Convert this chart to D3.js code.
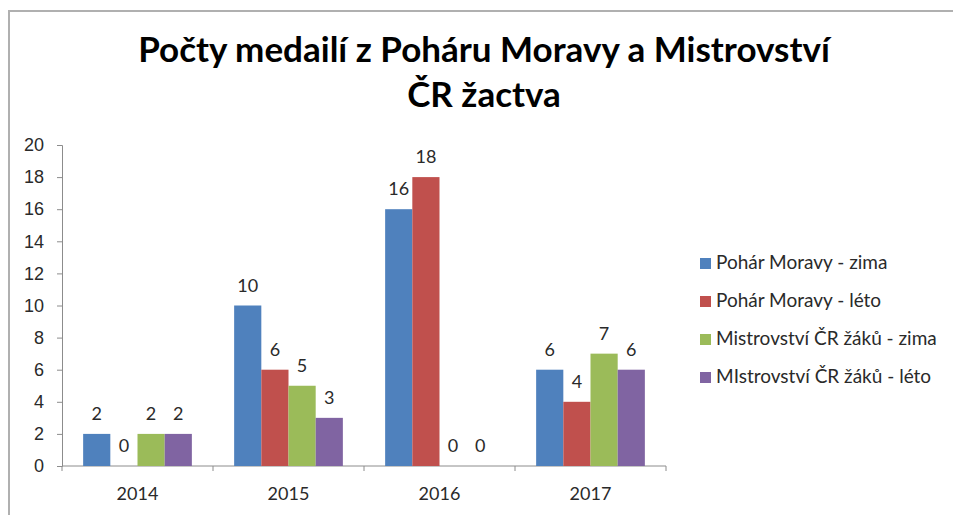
<!DOCTYPE html>
<html>
<head>
<meta charset="utf-8">
<script src="https://cdn.jsdelivr.net/npm/d3@7"></script>
<style>
  body { margin: 0; background: #fff; }
  svg { font-family: Lato, "Open Sans", sans-serif; }
</style>
</head>
<body>
<svg width="953" height="515"></svg>
<script>
var years = ['2014', '2015', '2016', '2017'];
var seriesNames = ['Pohár Moravy - zima', 'Pohár Moravy - léto', 'Mistrovství ČR žáků - zima', 'MIstrovství ČR žáků - léto'];
var pmZima = [2, 10, 16, 6];
var pmLeto = [0, 6, 18, 4];
var mcrZima = [2, 5, 0, 7];
var mcrLeto = [2, 3, 0, 6];
var yTicks = [0, 2, 4, 6, 8, 10, 12, 14, 16, 18, 20];
var colors = ['#4F81BD', '#C0504D', '#9BBB59', '#8064A2'];

var series = [pmZima, pmLeto, mcrZima, mcrLeto];

var svg = d3.select('svg');

// chart frame
svg.append('path')
  .attr('d', 'M9,515 V11 H953')
  .attr('fill', 'none')
  .attr('stroke', '#b0b0b0')
  .attr('stroke-width', 2);

// title
var title = svg.append('text')
  .attr('x', 484)
  .attr('text-anchor', 'middle')
  .attr('font-weight', 'bold')
  .attr('font-size', 35)
  .attr('fill', '#000');
title.append('tspan').attr('x', 484).attr('y', 62).text('Počty medailí z Poháru Moravy a Mistrovství');
title.append('tspan').attr('x', 484).attr('y', 107).text('ČR žactva');

var margin = { left: 62, top: 145 };
var width = 604;
var height = 321;

var g = svg.append('g')
  .attr('transform', 'translate(' + margin.left + ',' + margin.top + ')');

var x0 = d3.scaleBand()
  .domain(years)
  .range([0, width])
  .paddingInner(0.28)
  .paddingOuter(0.14);

var x1 = d3.scaleBand()
  .domain(d3.range(series.length))
  .range([0, x0.bandwidth()]);

var y = d3.scaleLinear()
  .domain([0, 20])
  .range([height, 0]);

// y axis
var yAxis = g.append('g')
  .call(d3.axisLeft(y).tickValues(yTicks).tickSize(5).tickPadding(13));
yAxis.select('.domain').attr('stroke', '#8c8c8c');
yAxis.selectAll('.tick line').attr('stroke', '#8c8c8c');
yAxis.selectAll('.tick text')
  .attr('font-size', 18)
  .attr('fill', '#2a2a2a');

// x axis with ticks at category boundaries
var xAxisG = g.append('g')
  .attr('transform', 'translate(0,' + height + ')');
xAxisG.append('line')
  .attr('x1', 0).attr('x2', width)
  .attr('stroke', '#8c8c8c');
var step = width / years.length;
xAxisG.selectAll('.bt')
  .data(d3.range(years.length + 1))
  .enter().append('line')
  .attr('x1', function(i) { return i * step; })
  .attr('x2', function(i) { return i * step; })
  .attr('y1', 0).attr('y2', 5)
  .attr('stroke', '#8c8c8c');
xAxisG.selectAll('.lbl')
  .data(years)
  .enter().append('text')
  .attr('x', function(d) { return x0(d) + x0.bandwidth() / 2; })
  .attr('y', 34)
  .attr('text-anchor', 'middle')
  .attr('font-size', 18)
  .attr('fill', '#2a2a2a')
  .text(function(d) { return d; });

// bars
var groups = g.selectAll('.grp')
  .data(years)
  .enter().append('g')
  .attr('transform', function(d) { return 'translate(' + x0(d) + ',0)'; });

groups.each(function(year, yi) {
  var grp = d3.select(this);
  series.forEach(function(s, si) {
    var v = s[yi];
    grp.append('rect')
      .attr('x', x1(si))
      .attr('y', y(v))
      .attr('width', x1.bandwidth())
      .attr('height', height - y(v))
      .attr('fill', colors[si]);
    grp.append('text')
      .attr('x', x1(si) + x1.bandwidth() / 2)
      .attr('y', y(v) - 14)
      .attr('text-anchor', 'middle')
      .attr('font-size', 18)
      .attr('fill', '#2a2a2a')
      .text(v);
  });
});

// legend
var legend = svg.append('g')
  .attr('transform', 'translate(700,258)');
var items = legend.selectAll('.li')
  .data(seriesNames)
  .enter().append('g')
  .attr('transform', function(d, i) { return 'translate(0,' + (i * 38) + ')'; });
items.append('rect')
  .attr('width', 11).attr('height', 11)
  .attr('fill', function(d, i) { return colors[i]; });
items.append('text')
  .attr('x', 16)
  .attr('y', 11)
  .attr('font-size', 19)
  .attr('fill', '#2a2a2a')
  .text(function(d) { return d; });
</script>
</body>
</html>
